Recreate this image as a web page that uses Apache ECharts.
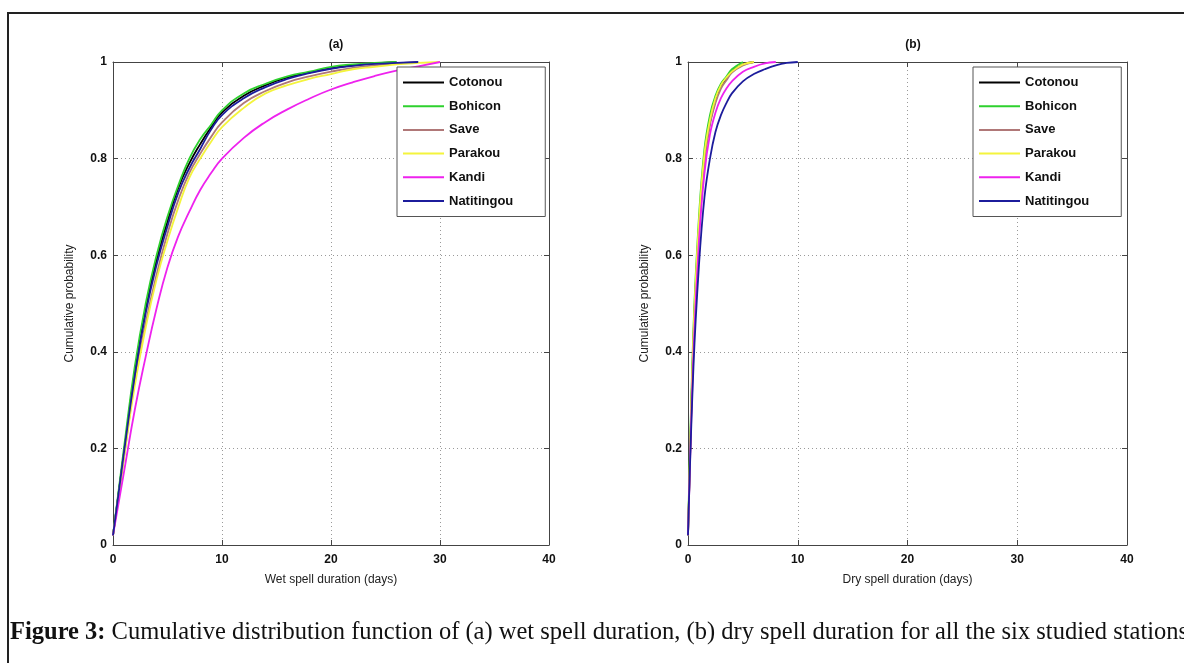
<!DOCTYPE html>
<html>
<head>
<meta charset="utf-8">
<script src="https://cdn.jsdelivr.net/npm/echarts@6/dist/echarts.min.js"></script>
<style>
html,body{margin:0;padding:0;background:#fff;}
#chart{width:1184px;height:663px;}
</style>
</head>
<body>
<div id="chart"></div>
<script>
// ---- data ----
const stations = ["Cotonou", "Bohicon", "Save", "Parakou", "Kandi", "Natitingou"];
const stationColors = ["#000000", "#2ed12e", "#b07878", "#f4f43c", "#ee22ee", "#1c1c9c"];

// (a) wet spell duration (days) vs cumulative probability
const wetX = [0, 1, 2, 3, 4, 5, 6, 7, 8, 9, 10, 12, 14, 16, 18, 20, 22, 24, 26, 28, 30];
const wetCotonou    = [0.02, 0.19, 0.36, 0.49, 0.59, 0.67, 0.74, 0.79, 0.83, 0.865, 0.895, 0.93, 0.952, 0.968, 0.978, 0.987, 0.993, 0.997, 1.0, null, null];
const wetBohicon    = [0.02, 0.20, 0.37, 0.50, 0.60, 0.68, 0.745, 0.80, 0.84, 0.87, 0.90, 0.935, 0.955, 0.97, 0.98, 0.99, 0.995, 0.998, 1.0, null, null];
const wetSave       = [0.02, 0.18, 0.34, 0.46, 0.56, 0.645, 0.715, 0.77, 0.81, 0.845, 0.875, 0.915, 0.94, 0.958, 0.97, 0.98, 0.988, 0.993, 0.997, 1.0, null];
const wetParakou    = [0.02, 0.18, 0.33, 0.45, 0.55, 0.63, 0.70, 0.76, 0.80, 0.835, 0.865, 0.905, 0.935, 0.952, 0.965, 0.975, 0.985, 0.99, 0.995, 0.998, 1.0];
const wetKandi      = [0.02, 0.15, 0.28, 0.39, 0.49, 0.575, 0.64, 0.69, 0.735, 0.77, 0.80, 0.843, 0.876, 0.902, 0.924, 0.943, 0.958, 0.971, 0.982, 0.991, 1.0];
const wetNatitingou = [0.02, 0.19, 0.35, 0.48, 0.58, 0.66, 0.73, 0.78, 0.82, 0.86, 0.89, 0.925, 0.948, 0.965, 0.977, 0.986, 0.992, 0.996, 0.998, 1.0, null];

// (b) dry spell duration (days) vs cumulative probability
const dryX = [0, 0.5, 1, 1.5, 2, 2.5, 3, 3.5, 4, 5, 6, 7, 8, 9, 10];
const dryCotonou    = [0.02, 0.43, 0.66, 0.80, 0.875, 0.92, 0.95, 0.965, 0.98, 0.995, 1.0, null, null, null, null];
const dryBohicon    = [0.02, 0.45, 0.68, 0.82, 0.89, 0.93, 0.955, 0.97, 0.985, 1.0, null, null, null, null, null];
const drySave       = [0.02, 0.42, 0.65, 0.79, 0.87, 0.915, 0.945, 0.962, 0.978, 0.993, 1.0, null, null, null, null];
const dryParakou    = [0.02, 0.44, 0.67, 0.81, 0.88, 0.925, 0.952, 0.968, 0.98, 0.995, 1.0, null, null, null, null];
const dryKandi      = [0.02, 0.40, 0.63, 0.77, 0.85, 0.895, 0.925, 0.945, 0.96, 0.98, 0.99, 0.997, 1.0, null, null];
const dryNatitingou = [0.02, 0.37, 0.58, 0.72, 0.80, 0.855, 0.89, 0.915, 0.935, 0.96, 0.975, 0.985, 0.993, 0.998, 1.0];

const xTicks = [0, 10, 20, 30, 40];
const yTicks = [0, 0.2, 0.4, 0.6, 0.8, 1];

const panelTitles = ["(a)", "(b)"];
const xNames = ["Wet spell duration (days)", "Dry spell duration (days)"];
const yName = "Cumulative probability";
const caption = [
  {bold: true, text: "Figure 3:"},
  {bold: false, text: " Cumulative distribution function of (a) wet spell duration, (b) dry spell duration for all the six studied stations"}
];

// ---- build ----
const wetSets = [wetCotonou, wetBohicon, wetSave, wetParakou, wetKandi, wetNatitingou];
const drySets = [dryCotonou, dryBohicon, drySave, dryParakou, dryKandi, dryNatitingou];

function pairs(xs, ys) {
  const out = [];
  for (let i = 0; i < xs.length; i++) if (ys[i] != null) out.push([xs[i], ys[i]]);
  return out;
}

const grids = [
  {left: 113, top: 62, width: 436, height: 483, show: false},
  {left: 688, top: 62, width: 439, height: 483, show: false}
];

const sans = 'Arial, "Liberation Sans", sans-serif';
const labelStyle = {color: '#111', fontFamily: sans, fontWeight: 'bold', fontSize: 12};
const axisLineStyle = {color: '#444', width: 1};

const xAxes = [], yAxes = [];
[0, 1].forEach(g => {
  xAxes.push({
    type: 'value', gridIndex: g, min: xTicks[0], max: xTicks[xTicks.length - 1], interval: xTicks[1] - xTicks[0],
    name: xNames[g], nameLocation: 'middle', nameGap: 29,
    nameTextStyle: {color: '#222', fontFamily: sans, fontSize: 12},
    axisLine: {show: true, lineStyle: axisLineStyle},
    axisTick: {show: true, inside: true, length: 5, lineStyle: axisLineStyle},
    axisLabel: Object.assign({margin: 9}, labelStyle),
    splitLine: {show: true, lineStyle: {color: '#9a9a9a', type: [1, 3], width: 1}}
  });
  yAxes.push({
    type: 'value', gridIndex: g, min: yTicks[0], max: yTicks[yTicks.length - 1], interval: 0.2,
    name: yName, nameLocation: 'middle', nameGap: 37, nameRotate: 90,
    nameTextStyle: {color: '#222', fontFamily: sans, fontSize: 12},
    axisLine: {show: true, lineStyle: axisLineStyle},
    axisTick: {show: true, inside: true, length: 5, lineStyle: axisLineStyle},
    axisLabel: Object.assign({margin: 6}, labelStyle),
    splitLine: {show: true, lineStyle: {color: '#9a9a9a', type: [1, 3], width: 1}}
  });
});
// box axes (top / right)
[0, 1].forEach(g => {
  xAxes.push({
    type: 'value', gridIndex: g, position: 'top', min: xTicks[0], max: xTicks[xTicks.length - 1], interval: 10,
    axisLine: {show: true, onZero: false, lineStyle: axisLineStyle},
    axisTick: {show: true, inside: true, length: 5, lineStyle: axisLineStyle},
    axisLabel: {show: false}, splitLine: {show: false}
  });
  yAxes.push({
    type: 'value', gridIndex: g, position: 'right', min: 0, max: 1, interval: 0.2,
    axisLine: {show: true, onZero: false, lineStyle: axisLineStyle},
    axisTick: {show: true, inside: true, length: 5, lineStyle: axisLineStyle},
    axisLabel: {show: false}, splitLine: {show: false}
  });
});

const series = [];
stations.forEach((s, i) => {
  series.push({
    name: s, type: 'line', xAxisIndex: 0, yAxisIndex: 0, data: pairs(wetX, wetSets[i]),
    showSymbol: false, symbol: 'none', smooth: 0.5,
    lineStyle: {color: stationColors[i], width: 1.8}, itemStyle: {color: stationColors[i]},
    z: 3 + i, animation: false
  });
});
stations.forEach((s, i) => {
  series.push({
    name: s, type: 'line', xAxisIndex: 1, yAxisIndex: 1, data: pairs(dryX, drySets[i]),
    showSymbol: false, symbol: 'none', smooth: 0.4,
    lineStyle: {color: stationColors[i], width: 1.8}, itemStyle: {color: stationColors[i]},
    z: 3 + i, animation: false
  });
});

function legendAt(left) {
  return {
    data: stations.map(s => ({name: s, icon: 'rect'})),
    orient: 'vertical', left: left, top: 67,
    itemWidth: 41, itemHeight: 2, itemGap: 8.7,
    padding: [8, 32, 8, 6],
    backgroundColor: '#fff', borderColor: '#555', borderWidth: 1, borderRadius: 0,
    selectedMode: false,
    textStyle: {color: '#111', fontFamily: sans, fontWeight: 'bold', fontSize: 13, lineHeight: 15},
    z: 10
  };
}

const option = {
  backgroundColor: '#fff',
  animation: false,
  title: [
    {text: panelTitles[0], left: 331, top: 34, textAlign: 'center',
      textStyle: {fontFamily: sans, fontWeight: 'bold', fontSize: 12, color: '#111'}},
    {text: panelTitles[1], left: 908, top: 34, textAlign: 'center',
      textStyle: {fontFamily: sans, fontWeight: 'bold', fontSize: 12, color: '#111'}}
  ],
  grid: grids,
  xAxis: xAxes,
  yAxis: yAxes,
  legend: [legendAt(397), legendAt(973)],
  series: series,
  graphic: [
    {type: 'polyline', shape: {points: [[8, 663], [8, 13], [1184, 13]]}, style: {stroke: '#222', lineWidth: 2, fill: null}, silent: true},
    {type: 'text', left: 10, top: 620, style: {
      text: '{b|' + caption[0].text + '}{r|' + caption[1].text + '}',
      rich: {
        b: {fontFamily: '"Liberation Serif", "Times New Roman", serif', fontWeight: 'bold', fontSize: 24.5, fill: '#111'},
        r: {fontFamily: '"Liberation Serif", "Times New Roman", serif', fontSize: 24.5, fill: '#111'}
      }
    }}
  ]
};

const chart = echarts.init(document.getElementById('chart'), null, {renderer: 'canvas'});
chart.setOption(option);
</script>
</body>
</html>
